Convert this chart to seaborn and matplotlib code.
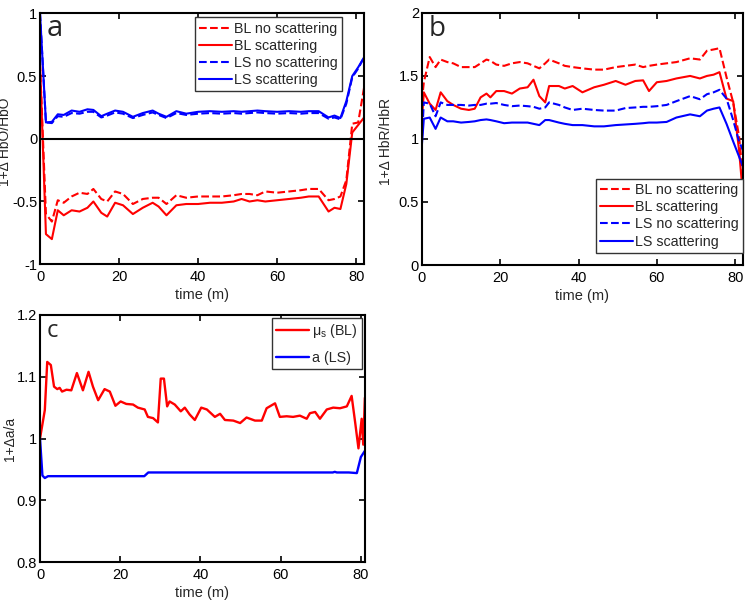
import numpy as np
import matplotlib
matplotlib.use("Agg")
import matplotlib.pyplot as plt
import seaborn as sns

sns.set_style("ticks")
plt.rcParams['font.family'] = ['Liberation Sans', 'DejaVu Sans']
plt.rcParams['axes.unicode_minus'] = False
plt.rcParams['xtick.direction'] = 'in'
plt.rcParams['ytick.direction'] = 'in'

RED = "#ff0000"
BLUE = "#0000ff"

# panel a: 1+d HbO/HbO
t_a = [0, 1.5, 3, 4.5, 6, 8, 10, 12, 13.5, 15.5, 17, 19, 21, 23.5, 26, 28.5, 30, 32,
       34.5, 37, 40, 43, 46, 49, 51, 53, 55, 57, 60, 63, 66, 68, 70.5, 73, 74.5, 76,
       77.5, 79, 80.5, 82]
bl_noscat_a = [0.6, -0.6, -0.66, -0.49, -0.51, -0.46, -0.43, -0.44, -0.4, -0.48, -0.5,
               -0.42, -0.44, -0.52, -0.48, -0.47, -0.47, -0.52, -0.45, -0.47, -0.46,
               -0.46, -0.46, -0.45, -0.44, -0.44, -0.45, -0.42, -0.43, -0.42, -0.41,
               -0.4, -0.4, -0.49, -0.48, -0.46, -0.33, 0.12, 0.13, 0.41]
bl_scat_a = [0.6, -0.76, -0.8, -0.57, -0.61, -0.57, -0.58, -0.55, -0.5, -0.59, -0.62,
             -0.51, -0.53, -0.6, -0.55, -0.51, -0.54, -0.61, -0.53, -0.52, -0.52,
             -0.51, -0.51, -0.5, -0.48, -0.5, -0.49, -0.5, -0.49, -0.48, -0.47,
             -0.46, -0.46, -0.58, -0.55, -0.56, -0.36, 0.05, 0.11, 0.17]
ls_noscat_a = [1.0, 0.13, 0.125, 0.18, 0.175, 0.205, 0.2, 0.215, 0.215, 0.17, 0.185,
               0.21, 0.2, 0.165, 0.19, 0.21, 0.19, 0.165, 0.205, 0.19, 0.2, 0.205,
               0.2, 0.205, 0.2, 0.205, 0.21, 0.205, 0.2, 0.205, 0.2, 0.205, 0.205,
               0.16, 0.17, 0.155, 0.28, 0.49, 0.56, 0.65]
ls_scat_a = [1.0, 0.13, 0.135, 0.195, 0.19, 0.225, 0.215, 0.235, 0.23, 0.18, 0.2,
             0.225, 0.215, 0.175, 0.205, 0.225, 0.2, 0.175, 0.22, 0.2, 0.215, 0.22,
             0.215, 0.22, 0.215, 0.22, 0.225, 0.22, 0.215, 0.22, 0.215, 0.22, 0.22,
             0.17, 0.185, 0.165, 0.3, 0.5, 0.57, 0.65]

# panel b: 1+d HbR/HbR
t_b = [0, 0.5, 2, 3.5, 4.8, 6.5, 8, 10, 12, 13.5, 15, 16.5, 17.5, 19, 21, 23, 25, 27,
       28.5, 30, 31.5, 32.5, 35, 36.5, 38.5, 41, 44, 46.5, 49.5, 52, 54.5, 56.5, 58,
       60, 62.5, 65, 68.5, 71, 72.8, 74.5, 76, 77.8, 79.5, 81, 82]
bl_noscat_b = [1.3, 1.45, 1.65, 1.57, 1.63, 1.61, 1.6, 1.57, 1.57, 1.57, 1.6, 1.63,
               1.62, 1.59, 1.58, 1.6, 1.61, 1.6, 1.58, 1.56, 1.6, 1.63, 1.6, 1.58,
               1.57, 1.56, 1.55, 1.55, 1.57, 1.58, 1.59, 1.57, 1.58, 1.59, 1.6, 1.61,
               1.64, 1.63, 1.7, 1.71, 1.72, 1.49, 1.29, 1.02, 0.7]
bl_scat_b = [1.15, 1.37, 1.28, 1.23, 1.37, 1.3, 1.27, 1.24, 1.23, 1.24, 1.33, 1.36,
             1.33, 1.38, 1.38, 1.36, 1.4, 1.41, 1.47, 1.34, 1.29, 1.42, 1.42, 1.4,
             1.42, 1.37, 1.41, 1.43, 1.46, 1.43, 1.46, 1.465, 1.38, 1.45, 1.46, 1.48,
             1.5, 1.48, 1.5, 1.51, 1.53, 1.32, 1.3, 0.91, 0.55]
ls_noscat_b = [1.0, 1.29, 1.28, 1.18, 1.29, 1.27, 1.27, 1.27, 1.265, 1.27, 1.27, 1.28,
               1.28, 1.285, 1.27, 1.26, 1.265, 1.26, 1.255, 1.24, 1.25, 1.29, 1.27,
               1.25, 1.23, 1.24, 1.23, 1.225, 1.225, 1.245, 1.25, 1.255, 1.255, 1.26,
               1.27, 1.3, 1.34, 1.315, 1.355, 1.37, 1.39, 1.32, 1.15, 0.98, 0.91]
ls_scat_b = [0.95, 1.16, 1.17, 1.08, 1.17, 1.14, 1.14, 1.13, 1.135, 1.14, 1.15, 1.155,
             1.15, 1.14, 1.125, 1.13, 1.13, 1.13, 1.12, 1.11, 1.15, 1.15, 1.13, 1.12,
             1.11, 1.11, 1.1, 1.1, 1.11, 1.115, 1.12, 1.125, 1.13, 1.13, 1.135, 1.17,
             1.195, 1.18, 1.225, 1.24, 1.25, 1.12, 0.98, 0.86, 0.78]

# panel c: 1+da/a
t_mus = [0, 1.2, 1.8, 2.7, 3.5, 4.3, 4.9, 5.5, 6.6, 7.8, 9.2, 10.7, 12.1, 13.2, 14.5,
         16.1, 17.4, 18.8, 20.1, 21.5, 23.2, 24.4, 26.1, 26.9, 28.2, 29.4, 30.1, 30.9,
         31.7, 32.3, 33.6, 35.1, 36.1, 37.3, 38.6, 40.2, 41.6, 43.6, 44.9, 46.1, 48.2,
         49.9, 51.5, 53.6, 55.3, 56.5, 58.6, 59.8, 61.5, 63.1, 64.8, 66.5, 67.3, 68.6,
         69.8, 71.5, 73.1, 74.8, 76.5, 77.7, 78.6, 79.4, 80.2, 80.6, 81]
mus_bl = [1.0, 1.046, 1.124, 1.119, 1.084, 1.08, 1.082, 1.076, 1.079, 1.078, 1.106,
          1.078, 1.108, 1.084, 1.062, 1.08, 1.076, 1.053, 1.06, 1.056, 1.055, 1.05,
          1.047, 1.035, 1.033, 1.026, 1.097, 1.097, 1.052, 1.06, 1.055, 1.044, 1.05,
          1.039, 1.03, 1.05, 1.047, 1.035, 1.04, 1.03, 1.029, 1.025, 1.034, 1.029,
          1.029, 1.049, 1.057, 1.035, 1.036, 1.035, 1.037, 1.032, 1.041, 1.043, 1.032,
          1.047, 1.05, 1.049, 1.052, 1.069, 1.025, 0.984, 1.032, 0.99, 1.066]
t_a_ls = [0, 0.6, 1.2, 2, 26, 27, 73, 73.5, 74, 77, 79, 80, 81]
a_ls = [1.0, 0.94, 0.936, 0.939, 0.939, 0.945, 0.945, 0.946, 0.945, 0.945, 0.944,
        0.97, 0.98]

fig = plt.figure(figsize=(7.52, 6.06), dpi=100)
ax_a = fig.add_axes([0.0532, 0.564, 0.431, 0.414])
ax_b = fig.add_axes([0.561, 0.5627, 0.427, 0.416])
ax_c = fig.add_axes([0.0532, 0.0726, 0.432, 0.4076])

lw = 1.5
sns.lineplot(x=t_a, y=bl_noscat_a, ax=ax_a, color=RED, linestyle='--', lw=lw,
             sort=False, label='BL no scattering')
sns.lineplot(x=t_a, y=bl_scat_a, ax=ax_a, color=RED, lw=lw, sort=False,
             label='BL scattering')
sns.lineplot(x=t_a, y=ls_noscat_a, ax=ax_a, color=BLUE, linestyle='--', lw=lw,
             sort=False, label='LS no scattering')
sns.lineplot(x=t_a, y=ls_scat_a, ax=ax_a, color=BLUE, lw=lw, sort=False,
             label='LS scattering')
ax_a.axhline(0, color='black', lw=1.5, zorder=5)
ax_a.set_xlim(0, 82)
ax_a.set_ylim(-1, 1)
ax_a.set_yticks([-1, -0.5, 0, 0.5, 1])
ax_a.set_ylabel('1+\u0394 HbO/HbO')

sns.lineplot(x=t_b, y=bl_noscat_b, ax=ax_b, color=RED, linestyle='--', lw=lw,
             sort=False, label='BL no scattering')
sns.lineplot(x=t_b, y=bl_scat_b, ax=ax_b, color=RED, lw=lw, sort=False,
             label='BL scattering')
sns.lineplot(x=t_b, y=ls_noscat_b, ax=ax_b, color=BLUE, linestyle='--', lw=lw,
             sort=False, label='LS no scattering')
sns.lineplot(x=t_b, y=ls_scat_b, ax=ax_b, color=BLUE, lw=lw, sort=False,
             label='LS scattering')
ax_b.set_xlim(0, 82)
ax_b.set_ylim(0, 2)
ax_b.set_yticks([0, 0.5, 1, 1.5, 2])
ax_b.set_ylabel('1+\u0394 HbR/HbR')

sns.lineplot(x=t_mus, y=mus_bl, ax=ax_c, color=RED, lw=1.7, sort=False,
             label='\u03bc$_{\\mathregular{s}}$ (BL)')
sns.lineplot(x=t_a_ls, y=a_ls, ax=ax_c, color=BLUE, lw=1.7, sort=False,
             label='a (LS)')
ax_c.set_xlim(0, 81)
ax_c.set_ylim(0.8, 1.2)
ax_c.set_yticks([0.8, 0.9, 1, 1.1, 1.2])
ax_c.set_ylabel('1+\u0394a/a')

leg_kw = dict(fontsize=10.3, frameon=True, fancybox=False, handlelength=2.3,
              handletextpad=0.15, labelspacing=0.22, borderpad=0.3,
              borderaxespad=0)
ax_a.legend(loc='upper right', bbox_to_anchor=(0.932, 0.984), **leg_kw)
ax_b.legend(loc='lower right', bbox_to_anchor=(1.0, 0.048), **leg_kw)
leg_kw['labelspacing'] = 0.75
ax_c.legend(loc='upper right', bbox_to_anchor=(0.99, 0.988), **leg_kw)

# y label centres, in axes coordinates
ylab_pos = {ax_a: (-0.085, 0.49), ax_b: (-0.09, 0.49), ax_c: (-0.07, 0.5)}

for ax, letter, size in [(ax_a, 'a', 21), (ax_b, 'b', 20), (ax_c, 'c', 17)]:
    leg = ax.get_legend()
    leg.get_frame().set_edgecolor('#333333')
    leg.get_frame().set_linewidth(1.0)
    leg.get_frame().set_alpha(1)
    ax.set_xticks([0, 20, 40, 60, 80])
    ax.set_xlabel('time (m)', fontsize=10.5, labelpad=3)
    ax.set_ylabel(ax.get_ylabel(), fontsize=10)
    ax.yaxis.set_label_coords(*ylab_pos[ax])
    ax.yaxis.set_major_formatter(matplotlib.ticker.FormatStrFormatter('%g'))
    ax.tick_params(which='both', direction='in', top=True, right=True,
                   length=4, width=1.2, labelsize=10.5, colors='black')
    ax.tick_params(axis='x', pad=4)
    ax.tick_params(axis='y', pad=2)
    for sp in ax.spines.values():
        sp.set_visible(True)
        sp.set_color('black')
        sp.set_linewidth(1.5)
    ax.text(0.02, 0.91, letter, transform=ax.transAxes, fontsize=size,
            family=['Open Sans', 'DejaVu Sans'], va='baseline', ha='left')

fig.savefig('out.png', dpi=100)
